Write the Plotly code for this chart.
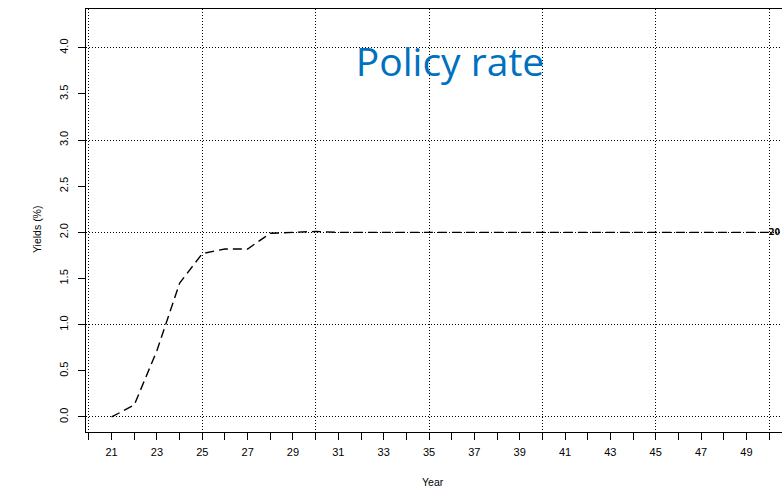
import plotly.graph_objects as go

years = list(range(21, 51))
policy_rate = [0.00, 0.13, 0.72, 1.45, 1.77, 1.82, 1.82, 1.99, 2.00, 2.01] + [2.00] * 20
x_tick_vals = list(range(20, 51))
x_tick_text = [str(v) if v % 2 == 1 else "" for v in x_tick_vals]
y_tick_vals = [0.0, 0.5, 1.0, 1.5, 2.0, 2.5, 3.0, 3.5, 4.0]
y_tick_text = [f"{v:.1f}" for v in y_tick_vals]
x_grid = [20, 25, 30, 35, 40, 45, 50]
y_grid = [0, 1, 2, 3, 4]
end_label = "20"

XR = [19.87, 50.57]
YR = [-0.163, 4.42]
FONT = "Liberation Sans, Arial, sans-serif"

W, H = 782, 489
l, r, t, b = 86, 0, 9, 57
pw, ph = W - l - r, H - t - b

fig = go.Figure()
fig.add_trace(go.Scatter(x=[None], y=[None], xaxis="x", yaxis="y", showlegend=False, hoverinfo="skip"))
fig.add_trace(go.Scatter(
    x=years, y=policy_rate, xaxis="x2", yaxis="y2", mode="lines",
    line=dict(color="black", width=1.4, dash="9px,5px"), showlegend=False,
))

fig.update_layout(
    width=W, height=H,
    margin=dict(l=l, r=r, t=t, b=b),
    paper_bgcolor="white", plot_bgcolor="white",
    font=dict(family=FONT, color="black", size=11),
    title=dict(text="Policy rate", x=(450 - l) / pw, xref="paper", xanchor="center",
               y=1 - 62 / H, yref="container", yanchor="middle",
               font=dict(family="Open Sans, Noto Sans, sans-serif", size=39, color="#0070C0")),
    xaxis=dict(range=XR, tickvals=x_grid, showticklabels=False, ticks="",
               showgrid=True, gridcolor="black", gridwidth=1, griddash="1px,2px",
               zeroline=False, showline=True, linecolor="black", linewidth=1, mirror=True),
    yaxis=dict(range=YR, tickvals=y_grid, showticklabels=False, ticks="",
               showgrid=True, gridcolor="black", gridwidth=1, griddash="1px,2px",
               zeroline=False, showline=True, linecolor="black", linewidth=1),
    xaxis2=dict(range=XR, overlaying="x", side="bottom", tickvals=x_tick_vals, ticktext=x_tick_text,
                ticks="outside", ticklen=7, tickcolor="black", tickwidth=1, showgrid=False, zeroline=False,
                tickfont=dict(size=11), ticklabelstandoff=3, anchor="y2"),
    yaxis2=dict(range=YR, overlaying="y", side="left", tickvals=y_tick_vals, ticktext=y_tick_text,
                ticks="outside", ticklen=7, tickcolor="black", tickwidth=1, showgrid=False, zeroline=False,
                tickangle=-90, tickfont=dict(size=11), ticklabelstandoff=6, anchor="x2"),
    annotations=[
        dict(text="Year", x=(433 - l) / pw, y=(H - b - 482) / ph, xref="paper", yref="paper",
             xanchor="center", yanchor="middle", showarrow=False, font=dict(size=10.5)),
        dict(text="<b>" + end_label + "</b>", x=50, y=2.0, xref="x2", yref="y2", xanchor="left", xshift=-1,
             yanchor="middle", showarrow=False, borderpad=0,
             font=dict(size=8, color="black", family="DejaVu Sans, sans-serif")),
        dict(text="Yields (%)", x=(37 - l) / pw, y=(H - b - 230) / ph, xref="paper", yref="paper",
             xanchor="center", yanchor="middle", textangle=-90, showarrow=False,
             font=dict(size=10.5)),
    ],
)

fig.write_html("out.html")
